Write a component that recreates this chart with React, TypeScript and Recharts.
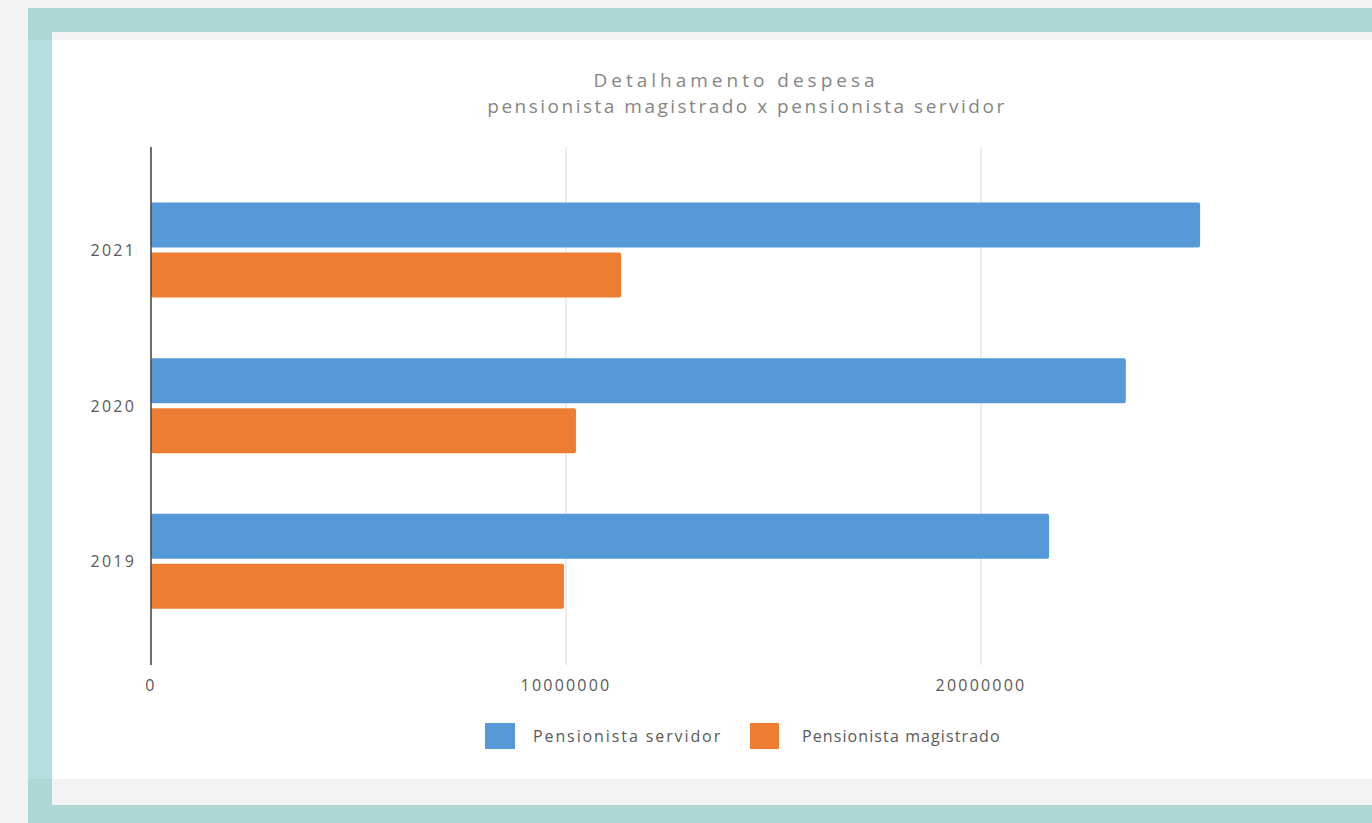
import React from 'react';
import { BarChart, Bar, XAxis, YAxis, CartesianGrid, Legend } from 'recharts';

const years = ['2021', '2020', '2019'];
const servidor = [25280000, 23490000, 21640000];
const magistrado = [11330000, 10240000, 9950000];
const xTicks = [0, 10000000, 20000000];
const seriesNames = ['Pensionista servidor', 'Pensionista magistrado'];
const seriesColors = ['#5599d8', '#ed7d31'];
const titleLines = ['Detalhamento despesa', 'pensionista magistrado x pensionista servidor'];

const data = years.map((y, i) => ({ year: y, servidor: servidor[i], magistrado: magistrado[i] }));

const FONT = '"Open Sans", "Noto Sans", sans-serif';

const LegendContent = (props: any) => {
  const payload = [...(props.payload || [])].sort(
    (a: any, b: any) => seriesNames.indexOf(a.value) - seriesNames.indexOf(b.value)
  );
  return (
    <div style={{ display: 'flex', alignItems: 'center', fontFamily: FONT }}>
      {payload.map((p: any, i: number) => (
        <div key={i} style={{ display: 'flex', alignItems: 'center', width: i === 0 ? 265 : 300 }}>
          <div style={{ width: i === 0 ? 30 : 29, height: 26, background: p.color, marginRight: i === 0 ? 18 : 23 }} />
          <span style={{ fontSize: 16, color: '#595959', letterSpacing: i === 0 ? 1.9 : 1.1, whiteSpace: 'nowrap' }}>{p.value}</span>
        </div>
      ))}
    </div>
  );
};

export default function App() {
  return (
    <div style={{ position: 'absolute', left: 0, top: 0, width: 1372, height: 823, overflow: 'hidden', background: '#f3f3f3' }}>
      <div style={{ position: 'absolute', left: 28, top: 8, width: 1344, height: 24, background: '#aed6d5' }} />
      <div style={{ position: 'absolute', left: 28, top: 32, width: 24, height: 8, background: '#aed6d5' }} />
      <div style={{ position: 'absolute', left: 28, top: 40, width: 24, height: 739, background: '#b5dfdf' }} />
      <div style={{ position: 'absolute', left: 28, top: 779, width: 24, height: 26, background: '#aed6d5' }} />
      <div style={{ position: 'absolute', left: 28, top: 805, width: 1344, height: 18, background: '#aed6d5' }} />
      <div style={{ position: 'absolute', left: 52, top: 40, width: 1320, height: 739, background: '#ffffff' }} />
      <div style={{ position: 'absolute', left: 436, top: 67, width: 600, textAlign: 'center', fontFamily: FONT, fontSize: 19, color: '#858585', letterSpacing: 4, lineHeight: '26px', whiteSpace: 'nowrap' }}>
        {titleLines[0]}
      </div>
      <div style={{ position: 'absolute', left: 397, top: 93, width: 700, textAlign: 'center', fontFamily: FONT, fontSize: 19, color: '#858585', letterSpacing: 2.5, lineHeight: '26px', whiteSpace: 'nowrap' }}>
        {titleLines[1]}
      </div>
      <div style={{ position: 'absolute', left: 0, top: 0 }}>
        <BarChart
          width={1420}
          height={823}
          data={data}
          layout="vertical"
          margin={{ top: 147, right: 24, left: 0, bottom: 102 }}
          barSize={45}
          barGap={5}
        >
          <CartesianGrid horizontal={false} vertical={true} stroke="#d9d9d9" />
          <XAxis
            type="number"
            domain={[0, 30000000]}
            ticks={xTicks}
            axisLine={false}
            tickLine={false}
            tickSize={0}
            tickMargin={15}
            height={30}
            tick={{ fill: '#595959', fontSize: 16, fontFamily: FONT, letterSpacing: 2.2 }}
          />
          <YAxis
            type="category"
            dataKey="year"
            width={151}
            padding={{ top: 25.5, bottom: 25.5 }}
            axisLine={{ stroke: '#444444', strokeWidth: 1.5 }}
            tickLine={false}
            tickSize={0}
            tickMargin={15}
            tick={{ fill: '#595959', fontSize: 16, fontFamily: FONT, letterSpacing: 2.2 }}
          />
          <Legend
            content={<LegendContent />}
            wrapperStyle={{ left: 485, top: 723, width: 'auto', bottom: 'auto' }}
          />
          <Bar dataKey="servidor" name={seriesNames[0]} fill={seriesColors[0]} radius={2} isAnimationActive={false} />
          <Bar dataKey="magistrado" name={seriesNames[1]} fill={seriesColors[1]} radius={2} isAnimationActive={false} />
        </BarChart>
      </div>
    </div>
  );
}
